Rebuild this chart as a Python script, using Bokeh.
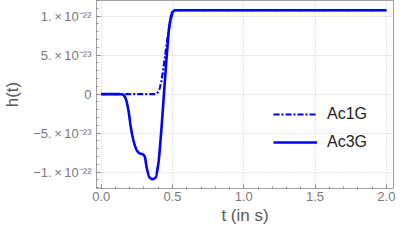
from bokeh.plotting import figure
from bokeh.models import FixedTicker, Range1d, Legend, LegendItem
from bokeh.embed import file_html
from bokeh.resources import INLINE
import numpy as np

# values in units of 1e-22
t_ac3 = [0.0, 0.12, 0.15, 0.17, 0.19, 0.21, 0.23, 0.25, 0.27, 0.29, 0.305, 0.32, 0.34, 0.36, 0.38, 0.40, 0.42, 0.44, 0.46, 0.48, 0.50, 0.52, 2.0]
h_ac3 = [0.0, 0.0, -0.005, -0.05, -0.2, -0.45, -0.62, -0.72, -0.76, -0.77, -0.80, -0.95, -1.07, -1.09, -1.07, -0.9, -0.5, 0.0, 0.5, 0.9, 1.05, 1.075, 1.075]
t_ac1 = [0.0, 0.38, 0.40, 0.42, 0.44, 0.46, 0.48, 0.50, 0.52, 2.0]
h_ac1 = [0.0, 0.0, 0.03, 0.15, 0.38, 0.65, 0.88, 1.03, 1.075, 1.075]

x_ticks = [0.0, 0.5, 1.0, 1.5, 2.0]
x_tick_labels = ["0.0", "0.5", "1.0", "1.5", "2.0"]
y_ticks = [-1.0, -0.5, 0.0, 0.5, 1.0]
y_tick_labels = ["\u22121.\u2009\u00d7\u200910\u207b\u00b2\u00b2", "\u22125.\u2009\u00d7\u200910\u207b\u00b2\u00b3", "0",
                 "5.\u2009\u00d7\u200910\u207b\u00b2\u00b3", "1.\u2009\u00d7\u200910\u207b\u00b2\u00b2"]

def smooth(tx, hx):
    # monotone cubic (PCHIP-like) through the read points
    tx = np.asarray(tx, float); hx = np.asarray(hx, float)
    d = np.diff(hx) / np.diff(tx)
    m = np.zeros_like(hx)
    for i in range(1, len(hx) - 1):
        if d[i - 1] * d[i] > 0:
            w1 = 2 * (tx[i + 1] - tx[i]) + (tx[i] - tx[i - 1])
            w2 = (tx[i + 1] - tx[i]) + 2 * (tx[i] - tx[i - 1])
            m[i] = (w1 + w2) / (w1 / d[i - 1] + w2 / d[i])
    xs, ys = [], []
    for i in range(len(tx) - 1):
        h = tx[i + 1] - tx[i]
        s = np.linspace(0, 1, 30, endpoint=False)
        h00 = 2 * s**3 - 3 * s**2 + 1; h10 = s**3 - 2 * s**2 + s
        h01 = -2 * s**3 + 3 * s**2; h11 = s**3 - s**2
        xs.extend(tx[i] + s * h)
        ys.extend(h00 * hx[i] + h10 * h * m[i] + h01 * hx[i + 1] + h11 * h * m[i + 1])
    xs.append(tx[-1]); ys.append(hx[-1])
    return xs, ys

FONT = "Liberation Sans"
p = figure(width=397, height=227, output_backend="svg", toolbar_location=None,
           x_range=Range1d(-0.033, 2.05), y_range=Range1d(-1.21, 1.2),
           min_border_left=96, min_border_right=4, min_border_top=0, min_border_bottom=20)

gray = "#8a8a8a"
p.outline_line_color = "#a0a0a0"
p.outline_line_width = 1

x3, y3 = smooth(t_ac3, h_ac3)
x1, y1 = smooth(t_ac1, h_ac1)
r1 = p.line(x1, y1, line_color="#0000ff", line_width=2.2, line_dash="6 2 2 2")
r3 = p.line(x3, y3, line_color="#0000ff", line_width=2.6)

for ax in (p.xaxis[0], p.yaxis[0]):
    ax.axis_line_color = "#a0a0a0"
    ax.major_tick_in = 4
    ax.major_tick_out = 0
    ax.minor_tick_in = 2
    ax.minor_tick_out = 0
    ax.major_tick_line_color = gray
    ax.minor_tick_line_color = gray
    ax.major_label_text_color = "#7a7a7a"
    ax.major_label_text_font = FONT
    ax.major_label_text_font_size = "13px"
    ax.axis_label_text_color = "#5a5a5a"
    ax.axis_label_text_font = FONT
    ax.axis_label_text_font_size = "17px"
    ax.axis_label_text_font_style = "normal"

p.xaxis.ticker = FixedTicker(ticks=x_ticks, minor_ticks=[i / 10 for i in range(0, 21)])
p.yaxis.ticker = FixedTicker(ticks=y_ticks, minor_ticks=[i / 10 for i in range(-12, 13)])
p.xaxis.major_label_overrides = dict(zip(x_ticks, x_tick_labels))
p.yaxis.major_label_overrides = dict(zip(y_ticks, y_tick_labels))
p.xaxis.axis_label = "t (in s)"
p.yaxis.axis_label = "h(t)"
p.xaxis.major_label_standoff = 3
p.xaxis.axis_label_standoff = 2
p.yaxis.major_label_standoff = 5
p.yaxis.axis_label_standoff = 8

p.xgrid.grid_line_color = "#c8c8c8"
p.ygrid.grid_line_color = "#c8c8c8"
p.xgrid.grid_line_dash = "1 2"
p.ygrid.grid_line_dash = "1 2"

legend = Legend(items=[LegendItem(label="Ac1G", renderers=[r1]),
                       LegendItem(label="Ac3G", renderers=[r3])],
                location=(177, 36), border_line_color=None, background_fill_alpha=0,
                label_text_font=FONT, label_text_font_size="16px",
                label_text_color="#222222", glyph_width=44, spacing=8, label_standoff=10)
p.add_layout(legend)

open("out.html", "w").write(file_html(p, INLINE))
